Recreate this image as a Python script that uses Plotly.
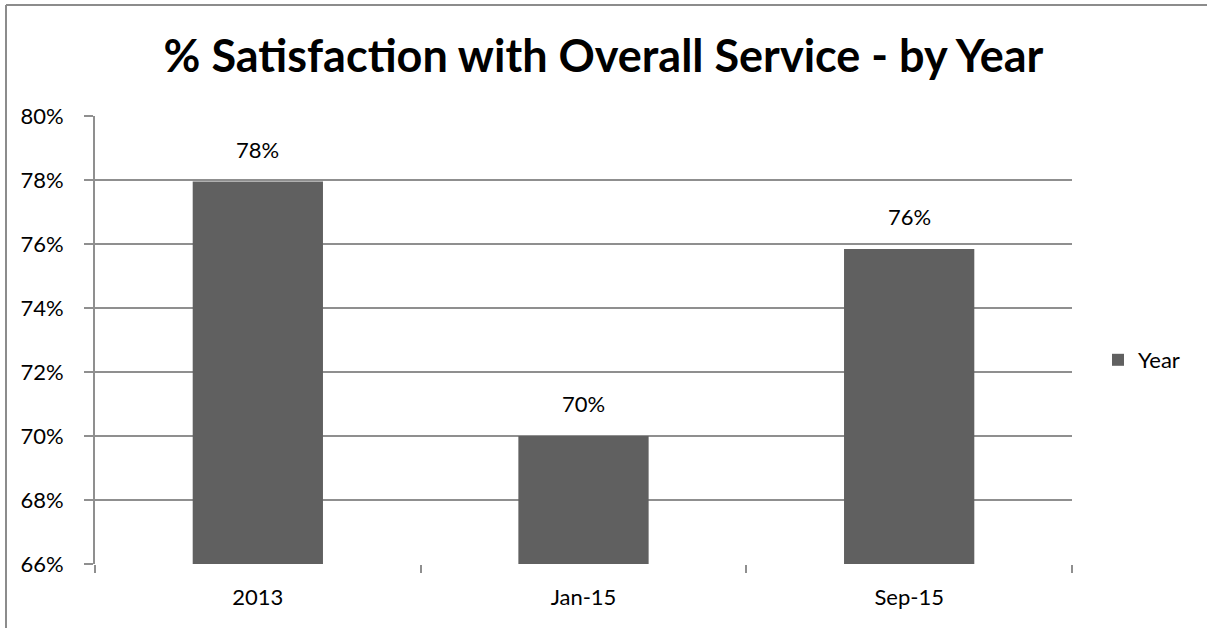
import plotly.graph_objects as go

# Satisfaction survey results
periods = ["2013", "Jan-15", "Sep-15"]
satisfaction = [0.7795, 0.7000, 0.7584]
series_name = "Year"
y_ticks = [0.66, 0.68, 0.70, 0.72, 0.74, 0.76, 0.78, 0.80]

FONT = "Lato"
BAR = "#606060"
GRID = "#8f8f8f"

W, H = 1207, 628
L, R, T, B = 95, 1072, 116, 564  # plot area in pixels

fig = go.Figure()
fig.add_trace(go.Bar(
    x=periods, y=satisfaction, name=series_name,
    marker=dict(color=BAR, line=dict(width=0)),
    showlegend=True,
))

# value labels above each bar (positioned by category index)
for i, v in enumerate(satisfaction):
    fig.add_annotation(
        x=i, y=v, text=f"{v:.0%}", showarrow=False,
        yanchor="bottom", yshift=17,
        font=dict(family=FONT, size=22, color="#000000"),
    )

# frame around the chart area (left and top edges)
fx0 = (6 - L) / (R - L)
fy1 = (B - 5) / (B - T)
fig.add_shape(type="line", xref="paper", yref="paper",
              x0=fx0, x1=fx0, y0=-0.3, y1=fy1,
              line=dict(color="#8c8c8c", width=2))
fig.add_shape(type="line", xref="paper", yref="paper",
              x0=fx0, x1=1.3, y0=fy1, y1=fy1,
              line=dict(color="#8c8c8c", width=2))

fig.update_layout(
    width=W, height=H,
    margin=dict(l=L, r=W - R, t=T, b=H - B, pad=0, autoexpand=False),
    paper_bgcolor="white", plot_bgcolor="white",
    bargap=0.6,
    font=dict(family=FONT, size=22, color="#000000"),
    title=dict(
        text="<b>% Satisfaction with Overall Service - by Year</b>",
        x=0.5, xref="container", xanchor="center",
        y=1 - 56 / H, yref="container", yanchor="middle",
        font=dict(family=FONT, size=45, color="#000000"),
    ),
    legend=dict(
        x=(1098 - L) / (R - L), xanchor="left",
        y=(B - 360) / (B - T), yanchor="middle",
        font=dict(family=FONT, size=22),
        bgcolor="rgba(0,0,0,0)", itemwidth=30,
    ),
    xaxis=dict(
        type="category", categoryorder="array", categoryarray=periods,
        range=[-0.5, len(periods) - 0.5],
        automargin=False, tickangle=0,
        showline=False, showgrid=False,
        ticks="outside", tickson="boundaries", ticklen=8,
        tickcolor=GRID, tickwidth=2,
        ticklabelstandoff=18,
        tickfont=dict(family=FONT, size=22),
    ),
    yaxis=dict(
        range=[0.66, 0.80], tickvals=y_ticks, tickformat=".0%",
        automargin=False,
        showgrid=True, gridcolor=GRID, gridwidth=2,
        showline=True, linecolor=GRID, linewidth=2,
        ticks="outside", ticklen=9, tickcolor=GRID, tickwidth=2,
        ticklabelstandoff=16,
        zeroline=False,
        tickfont=dict(family=FONT, size=22),
    ),
)

fig.write_html("out.html")
